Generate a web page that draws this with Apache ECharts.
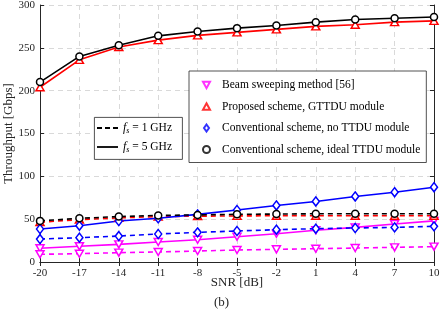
<!DOCTYPE html>
<html><head><meta charset="utf-8">
<script src="https://cdn.jsdelivr.net/npm/echarts@6/dist/echarts.min.js"></script>
<style>html,body{margin:0;padding:0;background:#fff}#c{width:443px;height:317px}</style>
</head><body><div id="c"></div>
<script>
const snr = ['-20','-17','-14','-11','-8','-5','-2','1','4','7','10'];
const yTicks = [0,50,100,150,200,250,300];
const beam5 = [16,18.3,20.6,23.3,26,29.5,33,37,40.4,44.3,48];
const beam1 = [9,9.7,10.9,11.7,12.8,14,14.8,15.5,16.3,17.1,17.9];
const prop5 = [204,236,251,259,264.5,268,271.5,275,277,280,281.5];
const prop1 = [46.5,49.5,51.5,53,53.5,53.8,54,54,54,54,54];
const conv5 = [38.5,42.4,47.8,51,55.6,60.7,66,70.7,76.5,81.5,87.3];
const conv1 = [26.8,28.4,30.3,32.7,34.6,36.2,37.7,38.9,39.7,40.4,41.6];
const ideal5 = [210,240,253,264,269,273,276,280,283,284.5,286];
const ideal1 = [48,51,53,54.4,55,55.6,56,56.3,56.4,56.4,56.4];
const legendNames = ['Beam sweeping method [56]','Proposed scheme, GTTDU module','Conventional scheme, no TTDU module','Conventional scheme, ideal TTDU module'];
const fsLabels = ['1 GHz','5 GHz'];

const FONT = 'Liberation Serif';
const DOWN_TRI = 'path://M0,0 L10,0 L5,9 Z';
const UP_TRI = 'path://M5,0 L10,9 L0,9 Z';
const DIAMOND = 'path://M5,0 L10,7 L5,14 L0,7 Z';
const methods = [
  {name: legendNames[0], color:'#ff00ff', symbol: DOWN_TRI, size:[8,7], d5: beam5, d1: beam1},
  {name: legendNames[1], color:'#ff0000', symbol: UP_TRI, size:[8,7], d5: prop5, d1: prop1},
  {name: legendNames[2], color:'#0000ff', symbol: DIAMOND, size:[7,9], d5: conv5, d1: conv1},
  {name: legendNames[3], color:'#000000', symbol: 'circle', size:7, d5: ideal5, d1: ideal1}
];
const series = [];
methods.forEach(m => {
  [['solid', m.d5], ['dashed', m.d1]].forEach(([t, d]) => {
    series.push({
      type:'line', name: m.name + t, data: d, xAxisIndex:0, yAxisIndex:0,
      symbol: m.symbol, symbolSize: m.size, showAllSymbol: true,
      lineStyle: {color: m.color, width: 1.6, type: t === 'dashed' ? [5,4] : 'solid'},
      itemStyle: {color: '#fff', borderColor: m.color, borderWidth: 1.5},
      z: 2, animation:false
    });
  });
});
methods.forEach(m => {
  series.push({type:'scatter', name: m.name, data: [], symbol: m.symbol, symbolSize: m.size,
    itemStyle:{color:'#fff', borderColor:m.color, borderWidth:1.6}});
});

const LX = 94, LY = 117;
const graphic = [
  {type:'rect', left:LX, top:LY, shape:{width:88, height:42}, style:{fill:'#fff', stroke:'#262626', lineWidth:0.8}, z:10},
  {type:'line', shape:{x1:LX+3, y1:LY+11, x2:LX+24, y2:LY+11}, style:{stroke:'#000', lineWidth:1.8, lineDash:[5,3]}, z:11},
  {type:'line', shape:{x1:LX+3, y1:LY+30, x2:LX+24, y2:LY+30}, style:{stroke:'#000', lineWidth:1.8}, z:11}
];
fsLabels.forEach((lab, i) => {
  graphic.push({type:'text', left:LX+29, top:LY+4+i*19, z:11, style:{
    text:'{i|f}{s|s}{t| = ' + lab + '}',
    rich:{
      i:{fontFamily:FONT, fontStyle:'italic', fontSize:12, fill:'#000', lineHeight:14, verticalAlign:'middle'},
      s:{fontFamily:FONT, fontStyle:'italic', fontSize:8, fill:'#000', lineHeight:14, verticalAlign:'bottom', padding:[6,0,0,0]},
      t:{fontFamily:FONT, fontSize:11.5, fill:'#000', lineHeight:14, verticalAlign:'middle'}
    }}});
});

const chart = echarts.init(document.getElementById('c'), null, {renderer:'canvas'});
chart.setOption({
  animation:false,
  backgroundColor:'#fff',
  textStyle:{fontFamily: FONT},
  title:{text:'(b)', left:'center', top:296, textStyle:{fontFamily:FONT, fontSize:13, fontWeight:'normal', color:'#262626'}, padding:0},
  grid:{left:40, right:9, top:5, bottom:55, containLabel:false, outerBoundsMode:'none'},
  xAxis:[{
    type:'category', data: snr, boundaryGap:false,
    name:'SNR [dB]', nameLocation:'middle', nameGap:21, nameMoveOverlap:false,
    nameTextStyle:{fontFamily:FONT, fontSize:13, color:'#262626', verticalAlign:'middle'},
    axisLine:{lineStyle:{color:'#262626', width:1}},
    axisTick:{inside:true, length:4, lineStyle:{color:'#262626'}},
    axisLabel:{fontFamily:FONT, fontSize:11, color:'#262626', margin:6},
    splitLine:{show:true, lineStyle:{color:'#d9d9d9', type:[5,4], width:1}}
  },{
    type:'category', data: snr, boundaryGap:false, position:'top',
    axisLine:{lineStyle:{color:'#262626', width:1}},
    axisTick:{inside:true, length:4, lineStyle:{color:'#262626'}},
    axisLabel:{show:false}, splitLine:{show:false}
  }],
  yAxis:[{
    type:'value', min:0, max:300, interval:50,
    name:'Throughput [Gbps]', nameLocation:'middle', nameGap:31, nameMoveOverlap:false,
    nameTextStyle:{fontFamily:FONT, fontSize:13, color:'#262626', verticalAlign:'middle'},
    axisLine:{show:true, lineStyle:{color:'#262626', width:1}},
    axisTick:{show:true, inside:true, length:4, lineStyle:{color:'#262626'}},
    axisLabel:{fontFamily:FONT, fontSize:11, color:'#262626', margin:5},
    splitLine:{show:true, lineStyle:{color:'#d9d9d9', type:[5,4], width:1}}
  },{
    type:'value', min:0, max:300, interval:50, position:'right',
    axisLine:{show:true, lineStyle:{color:'#262626', width:1}},
    axisTick:{show:true, inside:true, length:4, lineStyle:{color:'#262626'}},
    axisLabel:{show:false}, splitLine:{show:false}
  }],
  legend:[{
    data: legendNames.map(n => ({name:n})),
    orient:'vertical', left:189, top:71,
    itemWidth:7, itemHeight:7, itemGap:9.5,
    padding:[8,6,7,13],
    borderColor:'#262626', borderWidth:0.8, backgroundColor:'#fff',
    textStyle:{fontFamily:FONT, fontSize:11.5, color:'#000', padding:[0,0,0,7]},
    selectedMode:false
  }],
  graphic: graphic,
  series: series
});
</script></body></html>
